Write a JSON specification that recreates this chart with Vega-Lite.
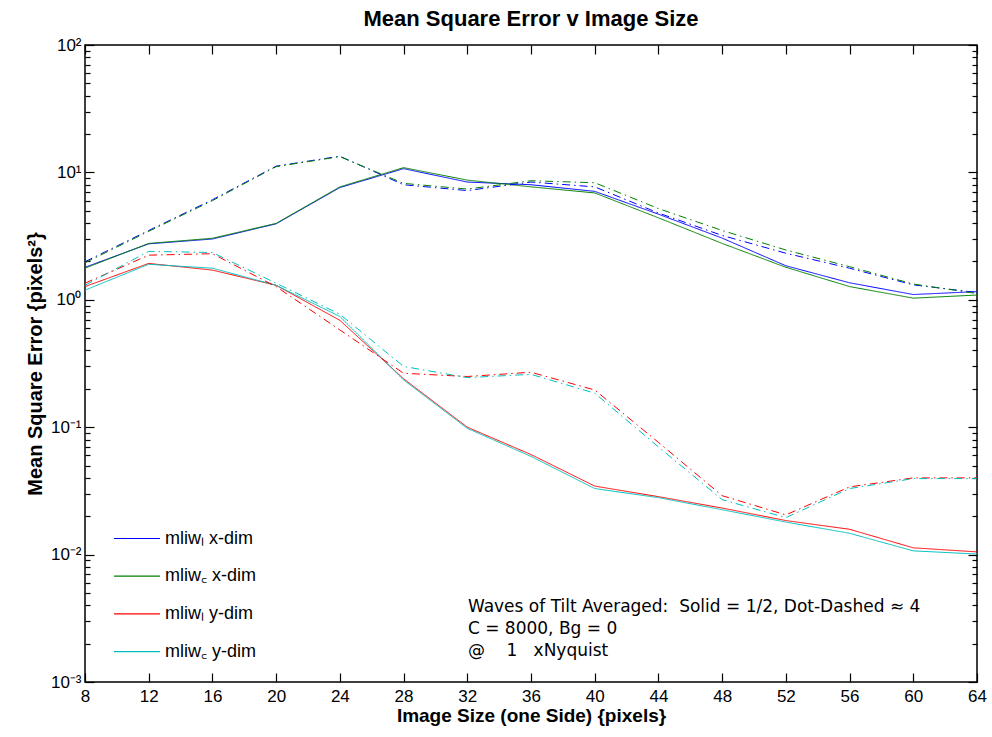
{
  "$schema": "https://vega.github.io/schema/vega-lite/v6.json",
  "width": 892,
  "height": 637,
  "autosize": {"type": "none"},
  "padding": {"left": 85, "top": 45, "right": 15, "bottom": 55},
  "background": "white",
  "config": {
    "view": {"stroke": "black", "strokeWidth": 1.5},
    "font": "Liberation Sans",
    "axis": {"grid": false, "domain": false, "tickColor": "black", "labelColor": "black", "titleColor": "black", "tickWidth": 1.2, "labelFont": "Liberation Sans", "titleFont": "Liberation Sans"}
  },
  "title": {"text": "Mean Square Error v Image Size", "fontSize": 22, "fontWeight": "bold", "font": "Liberation Sans", "anchor": "middle", "offset": 5, "color": "black"},
  "datasets": {
    "mse": [
      {"size": 8, "mse": 1.8, "series": "mliwl x-dim", "waves": "1/2"},
      {"size": 12, "mse": 2.75, "series": "mliwl x-dim", "waves": "1/2"},
      {"size": 16, "mse": 3.0, "series": "mliwl x-dim", "waves": "1/2"},
      {"size": 20, "mse": 3.95, "series": "mliwl x-dim", "waves": "1/2"},
      {"size": 24, "mse": 7.6, "series": "mliwl x-dim", "waves": "1/2"},
      {"size": 28, "mse": 10.7, "series": "mliwl x-dim", "waves": "1/2"},
      {"size": 32, "mse": 8.4, "series": "mliwl x-dim", "waves": "1/2"},
      {"size": 36, "mse": 8.0, "series": "mliwl x-dim", "waves": "1/2"},
      {"size": 40, "mse": 7.1, "series": "mliwl x-dim", "waves": "1/2"},
      {"size": 44, "mse": 4.7, "series": "mliwl x-dim", "waves": "1/2"},
      {"size": 48, "mse": 3.05, "series": "mliwl x-dim", "waves": "1/2"},
      {"size": 52, "mse": 1.85, "series": "mliwl x-dim", "waves": "1/2"},
      {"size": 56, "mse": 1.36, "series": "mliwl x-dim", "waves": "1/2"},
      {"size": 60, "mse": 1.1, "series": "mliwl x-dim", "waves": "1/2"},
      {"size": 64, "mse": 1.16, "series": "mliwl x-dim", "waves": "1/2"},

      {"size": 8, "mse": 1.77, "series": "mliwc x-dim", "waves": "1/2"},
      {"size": 12, "mse": 2.77, "series": "mliwc x-dim", "waves": "1/2"},
      {"size": 16, "mse": 3.04, "series": "mliwc x-dim", "waves": "1/2"},
      {"size": 20, "mse": 3.98, "series": "mliwc x-dim", "waves": "1/2"},
      {"size": 24, "mse": 7.7, "series": "mliwc x-dim", "waves": "1/2"},
      {"size": 28, "mse": 10.9, "series": "mliwc x-dim", "waves": "1/2"},
      {"size": 32, "mse": 8.7, "series": "mliwc x-dim", "waves": "1/2"},
      {"size": 36, "mse": 7.7, "series": "mliwc x-dim", "waves": "1/2"},
      {"size": 40, "mse": 6.9, "series": "mliwc x-dim", "waves": "1/2"},
      {"size": 44, "mse": 4.4, "series": "mliwc x-dim", "waves": "1/2"},
      {"size": 48, "mse": 2.77, "series": "mliwc x-dim", "waves": "1/2"},
      {"size": 52, "mse": 1.8, "series": "mliwc x-dim", "waves": "1/2"},
      {"size": 56, "mse": 1.27, "series": "mliwc x-dim", "waves": "1/2"},
      {"size": 60, "mse": 1.03, "series": "mliwc x-dim", "waves": "1/2"},
      {"size": 64, "mse": 1.09, "series": "mliwc x-dim", "waves": "1/2"},

      {"size": 8, "mse": 1.27, "series": "mliwl y-dim", "waves": "1/2"},
      {"size": 12, "mse": 1.93, "series": "mliwl y-dim", "waves": "1/2"},
      {"size": 16, "mse": 1.71, "series": "mliwl y-dim", "waves": "1/2"},
      {"size": 20, "mse": 1.3, "series": "mliwl y-dim", "waves": "1/2"},
      {"size": 24, "mse": 0.69, "series": "mliwl y-dim", "waves": "1/2"},
      {"size": 28, "mse": 0.24, "series": "mliwl y-dim", "waves": "1/2"},
      {"size": 32, "mse": 0.1, "series": "mliwl y-dim", "waves": "1/2"},
      {"size": 36, "mse": 0.061, "series": "mliwl y-dim", "waves": "1/2"},
      {"size": 40, "mse": 0.0345, "series": "mliwl y-dim", "waves": "1/2"},
      {"size": 44, "mse": 0.0285, "series": "mliwl y-dim", "waves": "1/2"},
      {"size": 48, "mse": 0.0232, "series": "mliwl y-dim", "waves": "1/2"},
      {"size": 52, "mse": 0.0185, "series": "mliwl y-dim", "waves": "1/2"},
      {"size": 56, "mse": 0.0158, "series": "mliwl y-dim", "waves": "1/2"},
      {"size": 60, "mse": 0.0113, "series": "mliwl y-dim", "waves": "1/2"},
      {"size": 64, "mse": 0.0105, "series": "mliwl y-dim", "waves": "1/2"},

      {"size": 8, "mse": 1.19, "series": "mliwc y-dim", "waves": "1/2"},
      {"size": 12, "mse": 1.9, "series": "mliwc y-dim", "waves": "1/2"},
      {"size": 16, "mse": 1.77, "series": "mliwc y-dim", "waves": "1/2"},
      {"size": 20, "mse": 1.3, "series": "mliwc y-dim", "waves": "1/2"},
      {"size": 24, "mse": 0.74, "series": "mliwc y-dim", "waves": "1/2"},
      {"size": 28, "mse": 0.235, "series": "mliwc y-dim", "waves": "1/2"},
      {"size": 32, "mse": 0.098, "series": "mliwc y-dim", "waves": "1/2"},
      {"size": 36, "mse": 0.059, "series": "mliwc y-dim", "waves": "1/2"},
      {"size": 40, "mse": 0.033, "series": "mliwc y-dim", "waves": "1/2"},
      {"size": 44, "mse": 0.028, "series": "mliwc y-dim", "waves": "1/2"},
      {"size": 48, "mse": 0.0225, "series": "mliwc y-dim", "waves": "1/2"},
      {"size": 52, "mse": 0.018, "series": "mliwc y-dim", "waves": "1/2"},
      {"size": 56, "mse": 0.0147, "series": "mliwc y-dim", "waves": "1/2"},
      {"size": 60, "mse": 0.0107, "series": "mliwc y-dim", "waves": "1/2"},
      {"size": 64, "mse": 0.0101, "series": "mliwc y-dim", "waves": "1/2"},

      {"size": 8, "mse": 1.99, "series": "mliwl x-dim", "waves": "4"},
      {"size": 12, "mse": 3.5, "series": "mliwl x-dim", "waves": "4"},
      {"size": 16, "mse": 6.1, "series": "mliwl x-dim", "waves": "4"},
      {"size": 20, "mse": 11.2, "series": "mliwl x-dim", "waves": "4"},
      {"size": 24, "mse": 13.4, "series": "mliwl x-dim", "waves": "4"},
      {"size": 28, "mse": 8.0, "series": "mliwl x-dim", "waves": "4"},
      {"size": 32, "mse": 7.2, "series": "mliwl x-dim", "waves": "4"},
      {"size": 36, "mse": 8.4, "series": "mliwl x-dim", "waves": "4"},
      {"size": 40, "mse": 7.7, "series": "mliwl x-dim", "waves": "4"},
      {"size": 44, "mse": 4.8, "series": "mliwl x-dim", "waves": "4"},
      {"size": 48, "mse": 3.2, "series": "mliwl x-dim", "waves": "4"},
      {"size": 52, "mse": 2.32, "series": "mliwl x-dim", "waves": "4"},
      {"size": 56, "mse": 1.77, "series": "mliwl x-dim", "waves": "4"},
      {"size": 60, "mse": 1.31, "series": "mliwl x-dim", "waves": "4"},
      {"size": 64, "mse": 1.14, "series": "mliwl x-dim", "waves": "4"},

      {"size": 8, "mse": 1.95, "series": "mliwc x-dim", "waves": "4"},
      {"size": 12, "mse": 3.45, "series": "mliwc x-dim", "waves": "4"},
      {"size": 16, "mse": 6.0, "series": "mliwc x-dim", "waves": "4"},
      {"size": 20, "mse": 11.1, "series": "mliwc x-dim", "waves": "4"},
      {"size": 24, "mse": 13.3, "series": "mliwc x-dim", "waves": "4"},
      {"size": 28, "mse": 8.2, "series": "mliwc x-dim", "waves": "4"},
      {"size": 32, "mse": 7.4, "series": "mliwc x-dim", "waves": "4"},
      {"size": 36, "mse": 8.6, "series": "mliwc x-dim", "waves": "4"},
      {"size": 40, "mse": 8.3, "series": "mliwc x-dim", "waves": "4"},
      {"size": 44, "mse": 5.2, "series": "mliwc x-dim", "waves": "4"},
      {"size": 48, "mse": 3.5, "series": "mliwc x-dim", "waves": "4"},
      {"size": 52, "mse": 2.46, "series": "mliwc x-dim", "waves": "4"},
      {"size": 56, "mse": 1.82, "series": "mliwc x-dim", "waves": "4"},
      {"size": 60, "mse": 1.33, "series": "mliwc x-dim", "waves": "4"},
      {"size": 64, "mse": 1.12, "series": "mliwc x-dim", "waves": "4"},

      {"size": 8, "mse": 1.35, "series": "mliwl y-dim", "waves": "4"},
      {"size": 12, "mse": 2.24, "series": "mliwl y-dim", "waves": "4"},
      {"size": 16, "mse": 2.3, "series": "mliwl y-dim", "waves": "4"},
      {"size": 20, "mse": 1.27, "series": "mliwl y-dim", "waves": "4"},
      {"size": 24, "mse": 0.58, "series": "mliwl y-dim", "waves": "4"},
      {"size": 28, "mse": 0.265, "series": "mliwl y-dim", "waves": "4"},
      {"size": 32, "mse": 0.25, "series": "mliwl y-dim", "waves": "4"},
      {"size": 36, "mse": 0.27, "series": "mliwl y-dim", "waves": "4"},
      {"size": 40, "mse": 0.196, "series": "mliwl y-dim", "waves": "4"},
      {"size": 44, "mse": 0.076, "series": "mliwl y-dim", "waves": "4"},
      {"size": 48, "mse": 0.029, "series": "mliwl y-dim", "waves": "4"},
      {"size": 52, "mse": 0.0205, "series": "mliwl y-dim", "waves": "4"},
      {"size": 56, "mse": 0.034, "series": "mliwl y-dim", "waves": "4"},
      {"size": 60, "mse": 0.04, "series": "mliwl y-dim", "waves": "4"},
      {"size": 64, "mse": 0.04, "series": "mliwl y-dim", "waves": "4"},

      {"size": 8, "mse": 1.3, "series": "mliwc y-dim", "waves": "4"},
      {"size": 12, "mse": 2.4, "series": "mliwc y-dim", "waves": "4"},
      {"size": 16, "mse": 2.35, "series": "mliwc y-dim", "waves": "4"},
      {"size": 20, "mse": 1.35, "series": "mliwc y-dim", "waves": "4"},
      {"size": 24, "mse": 0.77, "series": "mliwc y-dim", "waves": "4"},
      {"size": 28, "mse": 0.3, "series": "mliwc y-dim", "waves": "4"},
      {"size": 32, "mse": 0.245, "series": "mliwc y-dim", "waves": "4"},
      {"size": 36, "mse": 0.26, "series": "mliwc y-dim", "waves": "4"},
      {"size": 40, "mse": 0.185, "series": "mliwc y-dim", "waves": "4"},
      {"size": 44, "mse": 0.07, "series": "mliwc y-dim", "waves": "4"},
      {"size": 48, "mse": 0.027, "series": "mliwc y-dim", "waves": "4"},
      {"size": 52, "mse": 0.0195, "series": "mliwc y-dim", "waves": "4"},
      {"size": 56, "mse": 0.033, "series": "mliwc y-dim", "waves": "4"},
      {"size": 60, "mse": 0.0395, "series": "mliwc y-dim", "waves": "4"},
      {"size": 64, "mse": 0.0395, "series": "mliwc y-dim", "waves": "4"}
    ]
  },
  "data": {"name": "mse"},
  "layer": [
    {
      "mark": {"type": "line", "strokeWidth": 1, "clip": true},
      "encoding": {
        "x": {
          "field": "size", "type": "quantitative",
          "scale": {"domain": [8, 64], "nice": false, "zero": false},
          "axis": {"orient": "bottom", "values": [8, 12, 16, 20, 24, 28, 32, 36, 40, 44, 48, 52, 56, 60, 64], "ticks": false, "labelPadding": 6, "labelFontSize": 17, "labelFlush": false, "title": "Image Size (one Side) {pixels}", "titleFontSize": 19, "titleFontWeight": "bold", "titlePadding": 2}
        },
        "y": {
          "field": "mse", "type": "quantitative",
          "scale": {"type": "log", "domain": [0.001, 100], "nice": false},
          "axis": {
            "orient": "left",
            "values": [0.001, 0.01, 0.1, 1, 10, 100],
            "ticks": false,
            "labelExpr": "datum.value==100?'10²':datum.value==10?'10¹':datum.value==1?'10⁰':datum.value==0.1?'10⁻¹':datum.value==0.01?'10⁻²':'10⁻³'",
            "labelFontSize": 17, "labelPadding": 4, "labelBaseline": "middle", "labelFlush": false, "labelOverlap": false,
            "title": "Mean Square Error {pixels²}", "titleFontSize": 20, "titleFontWeight": "bold", "titlePadding": 5
          }
        },
        "color": {
          "field": "series", "type": "nominal",
          "scale": {"domain": ["mliwl x-dim", "mliwc x-dim", "mliwl y-dim", "mliwc y-dim"], "range": ["#0000FF", "#008000", "#FF0000", "#00BFBF"]},
          "legend": {
            "orient": "none", "legendX": 39.5, "legendY": 481, "title": null, "padding": 0,
            "symbolType": "M-2,0H2", "symbolSize": 529, "symbolStrokeWidth": 1.2,
            "labelFontSize": 18, "labelFont": "Liberation Sans", "labelColor": "black", "labelOffset": 15.5, "rowPadding": 15.7,
            "labelExpr": "datum.value=='mliwl x-dim'?'mliwₗ x-dim':datum.value=='mliwc x-dim'?'mliw꜀ x-dim':datum.value=='mliwl y-dim'?'mliwₗ y-dim':'mliw꜀ y-dim'"
          }
        },
        "strokeDash": {
          "field": "waves", "type": "nominal",
          "scale": {"domain": ["1/2", "4"], "range": [[1, 0], [8, 4, 1.5, 4]]},
          "legend": null
        }
      }
    },
    {
      "mark": {"type": "line", "opacity": 0},
      "encoding": {
        "x": {"field": "size", "type": "quantitative", "axis": {"orient": "bottom", "offset": -9, "tickSize": 9, "values": [8, 12, 16, 20, 24, 28, 32, 36, 40, 44, 48, 52, 56, 60, 64], "labels": false, "title": null}},
        "y": {"field": "mse", "type": "quantitative", "axis": {"orient": "left", "offset": -9, "tickSize": 9, "values": [0.001, 0.01, 0.1, 1, 10, 100], "labels": false, "title": null}},
        "detail": {"field": "series"}
      }
    },
    {
      "mark": {"type": "line", "opacity": 0},
      "encoding": {
        "x": {"field": "size", "type": "quantitative", "axis": {"orient": "top", "offset": -9, "tickSize": 9, "values": [8, 12, 16, 20, 24, 28, 32, 36, 40, 44, 48, 52, 56, 60, 64], "labels": false, "title": null}},
        "y": {"field": "mse", "type": "quantitative", "axis": {"orient": "right", "offset": -9, "tickSize": 9, "values": [0.001, 0.01, 0.1, 1, 10, 100], "labels": false, "title": null}},
        "detail": {"field": "series"}
      }
    },
    {
      "mark": {"type": "line", "opacity": 0},
      "encoding": {
        "x": {"field": "size", "type": "quantitative", "axis": null},
        "y": {"field": "mse", "type": "quantitative", "axis": {"orient": "left", "offset": -5, "tickSize": 5, "values": [0.002, 0.003, 0.004, 0.005, 0.006, 0.007, 0.008, 0.009, 0.02, 0.03, 0.04, 0.05, 0.06, 0.07, 0.08, 0.09, 0.2, 0.3, 0.4, 0.5, 0.6, 0.7, 0.8, 0.9, 2, 3, 4, 5, 6, 7, 8, 9, 20, 30, 40, 50, 60, 70, 80, 90], "labels": false, "title": null}},
        "detail": {"field": "series"}
      }
    },
    {
      "mark": {"type": "line", "opacity": 0},
      "encoding": {
        "x": {"field": "size", "type": "quantitative", "axis": null},
        "y": {"field": "mse", "type": "quantitative", "axis": {"orient": "right", "offset": -5, "tickSize": 5, "values": [0.002, 0.003, 0.004, 0.005, 0.006, 0.007, 0.008, 0.009, 0.02, 0.03, 0.04, 0.05, 0.06, 0.07, 0.08, 0.09, 0.2, 0.3, 0.4, 0.5, 0.6, 0.7, 0.8, 0.9, 2, 3, 4, 5, 6, 7, 8, 9, 20, 30, 40, 50, 60, 70, 80, 90], "labels": false, "title": null}},
        "detail": {"field": "series"}
      }
    },
    {
      "data": {"values": [{"note": "Waves of Tilt Averaged"}]},
      "mark": {"type": "text", "align": "left", "baseline": "top", "fontSize": 17, "lineHeight": 22, "font": "DejaVu Sans", "color": "black",
        "text": ["Waves of Tilt Averaged:\u00a0 Solid = 1/2, Dot-Dashed ≈ 4", "C = 8000, Bg = 0", "@\u00a0\u00a0\u00a0\u00a01\u00a0\u00a0\u00a0xNyquist"]},
      "encoding": {
        "x": {"datum": 32.04, "type": "quantitative", "axis": null},
        "y": {"datum": 0.0045, "type": "quantitative", "axis": null}
      }
    }
  ],
  "resolve": {"axis": {"x": "independent", "y": "independent"}}
}
